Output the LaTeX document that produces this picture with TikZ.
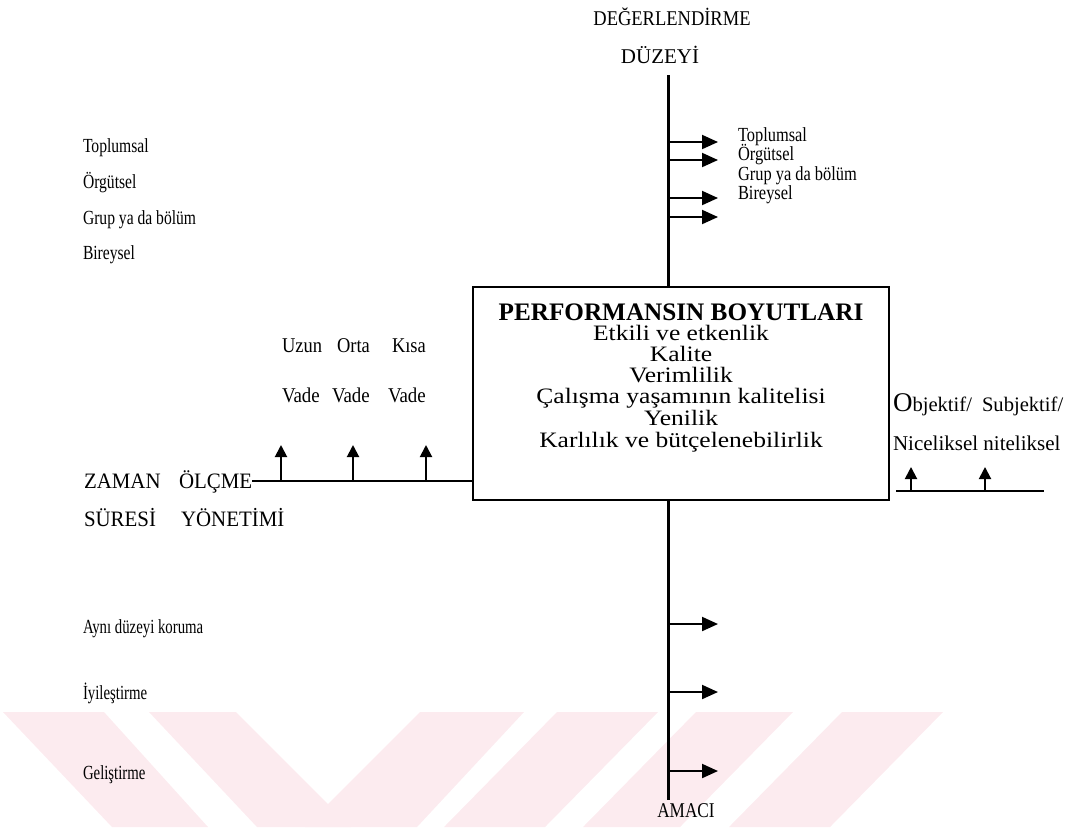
\documentclass[tikz,border=0pt]{standalone}
\usepackage{fontspec}
\setmainfont{Liberation Serif}
\usetikzlibrary{arrows.meta}
\definecolor{wmpink}{RGB}{252,235,239}
\newcommand\fs[1]{\fontsize{#1}{#1}\selectfont}
\newcommand\hsc[2]{\scalebox{#1}[1]{#2}}
\newcommand\boxwide[1]{\scalebox{1.16}[1]{#1}}

\begin{document}
\begin{tikzpicture}[x=0.5pt,y=-0.5pt,
  every node/.style={inner sep=0pt,outer sep=0pt},
  mainline/.style={line width=1.5pt},
  rarrow/.style={line width=1pt,-{Triangle[length=8pt,width=7pt]}},
  uarrow/.style={line width=1pt,-{Triangle[length=6pt,width=6pt]}},
  leftlbl/.style={anchor=base west,font=\fs{10}},
  rightlbl/.style={anchor=base west,font=\fs{10}},
  boxtxt/.style={anchor=base,font=\fs{11}},
  frame/.style={draw,line width=1.2pt,minimum width=208pt,minimum height=106.5pt}
]
\useasboundingbox (0,0) rectangle (1090,827);

% pale band of slanted stripes along the bottom edge
\begin{scope}
  \clip (0,712) rectangle (1090,827);
  \fill[wmpink] (3,712) -- (104,712) -- (208,827) -- (112,827) -- cycle;
  \fill[wmpink] (149,712) -- (236,712) -- (351,827) -- (257,827) -- cycle;
  \fill[wmpink] (420,712) -- (524,712) -- (417,827) -- (305,827) -- cycle;
  \fill[wmpink] (557,712) -- (658,712) -- (545,827) -- (444,827) -- cycle;
  \fill[wmpink] (696,712) -- (793,712) -- (680,827) -- (583,827) -- cycle;
  \fill[wmpink] (842,712) -- (943,712) -- (830,827) -- (729,827) -- cycle;
\end{scope}

% evaluation level (top)
\node[font=\fs{10.5}] (deg) at (672,17) {\hsc{0.88}{DEĞERLENDİRME}};
\node[font=\fs{10.5}] (duz) at (660,55) {DÜZEYİ};
\coordinate (vtop) at (668,75);

% central box
\node[frame] (box) at (681,393.5) {};
\node[boxtxt,font=\fs{12.6}\bfseries] (t0) at (681,320) {PERFORMANSIN BOYUTLARI};
\node[boxtxt] (t1) at (681,340) {\boxwide{Etkili ve etkenlik}};
\node[boxtxt] (t2) at (681,361) {\boxwide{Kalite}};
\node[boxtxt] (t3) at (681,382) {\boxwide{Verimlilik}};
\node[boxtxt] (t4) at (681,403) {\boxwide{Çalışma yaşamının kalitelisi}};
\node[boxtxt] (t5) at (681,425) {\boxwide{Yenilik}};
\node[boxtxt] (t6) at (681,447) {\boxwide{Karlılık ve bütçelenebilirlik}};

\draw[mainline] (vtop) -- (vtop |- box.north);

% branches to the right of the upper line
\foreach \n/\yy in {a/142,b/160,c/198,d/217}{
  \coordinate (s\n) at (668,\yy);
  \coordinate (e\n) at (718,\yy);
  \draw[rarrow] (s\n) -- (e\n);
}
\node[rightlbl] (rt1) at (738,141) {\hsc{0.82}{Toplumsal}};
\node[rightlbl] (rt2) at (738,160) {\hsc{0.82}{Örgütsel}};
\node[rightlbl] (rt3) at (738,180) {\hsc{0.82}{Grup ya da bölüm}};
\node[rightlbl] (rt4) at (738,199) {\hsc{0.82}{Bireysel}};

% upper left list
\node[leftlbl] (lt1) at (83,152) {\hsc{0.78}{Toplumsal}};
\node[leftlbl] (lt2) at (83,188) {\hsc{0.78}{Örgütsel}};
\node[leftlbl] (lt3) at (83,224) {\hsc{0.78}{Grup ya da bölüm}};
\node[leftlbl] (lt4) at (83,259) {\hsc{0.78}{Bireysel}};

% time span
\node[anchor=base west,font=\fs{10.5}] (uz) at (282,352) {\hsc{0.88}{Uzun}};
\node[anchor=base west,font=\fs{10.5}] (or) at (337,352) {\hsc{0.88}{Orta}};
\node[anchor=base west,font=\fs{10.5}] (ks) at (392,352) {\hsc{0.88}{Kısa}};
\node[anchor=base west,font=\fs{10.5}] (v1) at (282,402) {\hsc{0.9}{Vade}};
\node[anchor=base west,font=\fs{10.5}] (v2) at (332,402) {\hsc{0.9}{Vade}};
\node[anchor=base west,font=\fs{10.5}] (v3) at (388,402) {\hsc{0.9}{Vade}};

\node[anchor=base west,font=\fs{11}] (zaman) at (84,488) {\hsc{0.95}{ZAMAN}};
\node[anchor=base west,font=\fs{11}] (olcme) at (179,488) {\hsc{0.95}{ÖLÇME}};
\node[anchor=base west,font=\fs{11}] (suresi) at (84,526) {\hsc{0.95}{SÜRESİ}};
\node[anchor=base west,font=\fs{11}] (yonetim) at (181,526) {\hsc{0.95}{YÖNETİMİ}};

\coordinate (lstart) at (olcme.base east);
\draw[line width=1pt] ([yshift=3.5pt]lstart) -- ([yshift=3.5pt]lstart -| box.west);
\foreach \n/\xx in {1/281,2/353,3/426}{
  \coordinate (ub\n) at (\xx,481);
  \coordinate (ut\n) at (\xx,445);
  \draw[uarrow] (ub\n) -- (ut\n);
}

% measurement type (right)
\node[anchor=base west,font=\fs{10.3}] (obj) at (893,411) {{\fs{13.5}O}bjektif/\hspace{5pt}Subjektif/};
\node[anchor=base west,font=\fs{10.5}] (nic) at (893,450) {Niceliksel niteliksel};
\coordinate (rl) at (896,491);
\coordinate (rr) at (1044,491);
\draw[line width=1pt] (rl) -- (rr);
\foreach \n/\xx in {1/911,2/985}{
  \coordinate (rb\n) at (\xx,491);
  \coordinate (rtp\n) at (\xx,467);
  \draw[uarrow] (rb\n) -- (rtp\n);
}

% purpose (bottom)
\coordinate (vbot) at (668,800);
\draw[mainline] (vbot |- box.south) -- (vbot);
\foreach \n/\yy in {a/624,b/692,c/771}{
  \coordinate (bs\n) at (668,\yy);
  \coordinate (be\n) at (718,\yy);
  \draw[rarrow] (bs\n) -- (be\n);
}
\node[leftlbl] (lb1) at (83,633) {\hsc{0.74}{Aynı düzeyi koruma}};
\node[leftlbl] (lb2) at (83,699) {\hsc{0.74}{İyileştirme}};
\node[leftlbl] (lb3) at (83,779) {\hsc{0.74}{Geliştirme}};
\node[font=\fs{10.5}] (amac) at (686,811) {\hsc{0.82}{AMACI}};
\end{tikzpicture}
\end{document}
